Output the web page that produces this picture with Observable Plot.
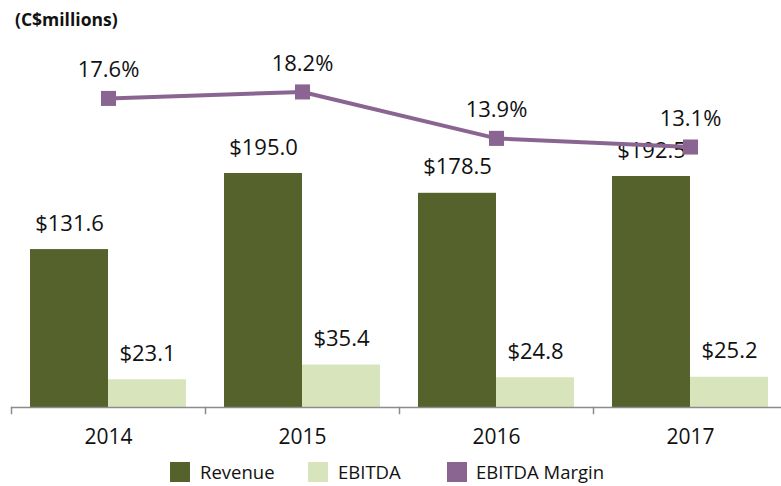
<!DOCTYPE html>
<html>
<head>
<meta charset="utf-8">
<script src="https://cdn.jsdelivr.net/npm/d3@7"></script>
<script src="https://cdn.jsdelivr.net/npm/@observablehq/plot@0.6"></script>
<style>
  html, body { margin: 0; padding: 0; background: #fff; }
  #wrap { position: relative; width: 781px; height: 486px; overflow: hidden; font-family: "Open Sans", sans-serif; color: #111; }
  #title { position: absolute; left: 15px; top: 7px; font-weight: bold; font-size: 17.5px; line-height: 24px; }
  .plot { position: absolute; left: 0; top: 30px; max-width: none !important; }
  .lg { position: absolute; top: 462px; height: 20px; }
  .sw { width: 20px; height: 20px; }
  .lt { font-size: 18.5px; line-height: 20px; white-space: nowrap; }
</style>
</head>
<body>
<div id="wrap">
  <div id="title">(C$millions)</div>
</div>
<script>
const years = ["2014", "2015", "2016", "2017"];
const revenue = [131.6, 195.0, 178.5, 192.5];
const ebitda = [23.1, 35.4, 24.8, 25.2];
const ebitdaMargin = [17.6, 18.2, 13.9, 13.1];
const seriesNames = ["Revenue", "EBITDA"];
const legendNames = ["Revenue", "EBITDA", "EBITDA Margin"];

const green = "#55622B";
const light = "#D8E4BC";
const purple = "#8B6592";
const axisGray = "#8c8c8c";

const bars = years.flatMap((y, i) => [
  {year: y, series: "Revenue", value: revenue[i]},
  {year: y, series: "EBITDA", value: ebitda[i]}
]);
const marginData = years.map((y, i) => ({year: y, value: ebitdaMargin[i]}));

const wrap = document.getElementById("wrap");

const barPlot = Plot.plot({
  width: 787, height: 420,
  marginLeft: 11, marginRight: 0, marginTop: 17, marginBottom: 43,
  style: {fontFamily: "Open Sans", background: "transparent", overflow: "visible", maxWidth: "none"},
  fx: {domain: years, padding: 0, label: null},
  x: {domain: seriesNames, paddingInner: 0, paddingOuter: 0.24, axis: null},
  y: {domain: [0, 300], axis: null},
  color: {domain: seriesNames, range: [green, light]},
  marks: [
    Plot.barY(bars, {fx: "year", x: "series", y: "value", fill: "series"}),
    Plot.text(bars, {fx: "year", x: "series", y: "value", text: d => "$" + d.value.toFixed(1), dy: -26, fontSize: 22, fill: "#111"}),
    Plot.ruleY([0], {stroke: axisGray, strokeWidth: 1.5}),
    Plot.frame({anchor: "left", stroke: axisGray, strokeWidth: 1.5, insetTop: 360, insetBottom: -6}),
    Plot.axisFx({anchor: "bottom", tickSize: 0, tickPadding: 22, fontSize: 21, label: null, fill: "#111"})
  ]
});
barPlot.classList.add("plot");
wrap.appendChild(barPlot);

const linePlot = Plot.plot({
  width: 787, height: 420,
  marginLeft: 11, marginRight: 0, marginTop: 42, marginBottom: 162,
  style: {fontFamily: "Open Sans", background: "transparent", overflow: "visible", maxWidth: "none"},
  x: {type: "band", domain: years, padding: 0, axis: null},
  y: {domain: [0, 20], axis: null},
  marks: [
    Plot.line(marginData, {x: "year", y: "value", stroke: purple, strokeWidth: 4}),
    Plot.dot(marginData, {x: "year", y: "value", symbol: "square", r: 8.5, fill: purple}),
    Plot.text(marginData, {x: "year", y: "value", text: d => d.value.toFixed(1) + "%", dy: -28, fontSize: 22, fill: "#111"})
  ]
});
linePlot.classList.add("plot");
wrap.appendChild(linePlot);

// legend
const legendColors = [green, light, purple];
const swatchX = [170, 308, 447];
const textX = [200, 338, 476];
legendNames.forEach((name, i) => {
  const sw = document.createElement("div");
  sw.className = "lg sw";
  sw.style.left = swatchX[i] + "px";
  sw.style.background = legendColors[i];
  wrap.appendChild(sw);
  const t = document.createElement("div");
  t.className = "lg lt";
  t.style.left = textX[i] + "px";
  t.textContent = name;
  wrap.appendChild(t);
});
</script>
</body>
</html>
